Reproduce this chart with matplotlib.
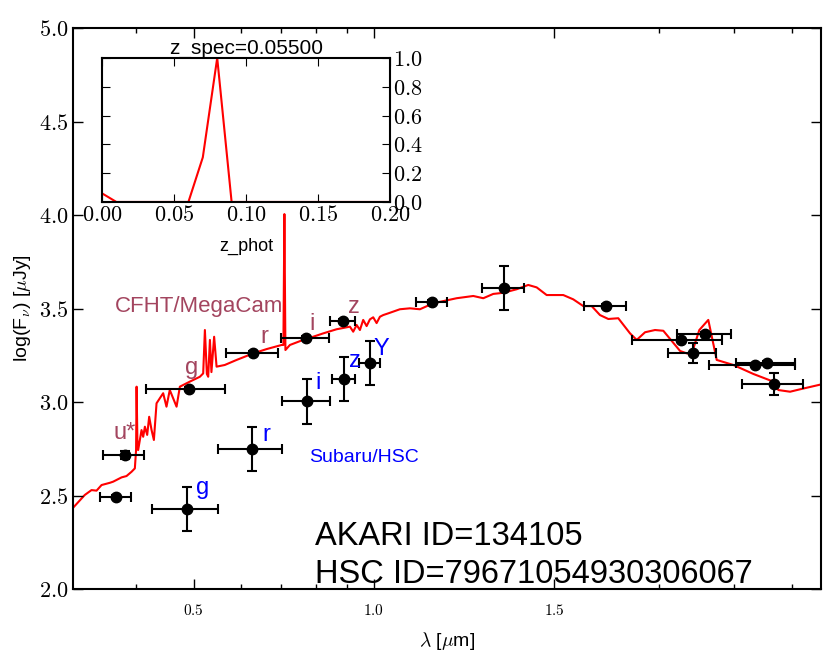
import matplotlib
matplotlib.use("Agg")
import matplotlib.pyplot as plt
import numpy as np

plt.rcParams['font.family'] = ['Liberation Sans', 'DejaVu Sans']
plt.rcParams['mathtext.fontset'] = 'cm'

# SED model (observed wavelength in micron, log flux in uJy)
sed_wave = [0.3142, 0.3286, 0.3372, 0.3438, 0.3505, 0.3619, 0.3665, 0.3786, 0.3858, 0.3934,
            0.3984, 0.4003, 0.4011, 0.4023, 0.4035, 0.4088, 0.4114, 0.4141, 0.4178, 0.4210,
            0.4249, 0.4287, 0.4331, 0.4386, 0.4443, 0.4500, 0.4546, 0.4558, 0.4678, 0.4738,
            0.4923, 0.5117, 0.5183, 0.5217, 0.5257, 0.5284, 0.5319, 0.5350, 0.5406, 0.5457,
            0.5632, 0.5894, 0.6284, 0.6616, 0.7010, 0.7058, 0.7085, 0.7113, 0.7237, 0.7615,
            0.7914, 0.8227, 0.8661, 0.9118, 0.9234, 0.9356, 0.9475, 0.9596, 0.9723, 0.9847,
            0.9973, 1.0104, 1.0234, 1.0365, 1.0566, 1.1052, 1.1487, 1.1937, 1.2568, 1.3749,
            1.4659, 1.5234, 1.5831, 1.6453, 1.7324, 1.8113, 1.8710, 1.9444, 2.0728, 2.1542,
            2.2387, 2.3121, 2.3874, 2.4650, 2.5616, 2.6803, 2.7502, 2.8396, 2.9508, 3.0465,
            3.2494, 3.3343, 3.3993, 3.4994, 3.6224, 3.7419, 3.9900, 4.3088, 4.6531, 4.7438,
            4.9627, 5.1576, 5.5908]
sed_flux = [2.435, 2.503, 2.529, 2.526, 2.556, 2.568, 2.574, 2.597, 2.604, 2.627,
            2.645, 2.743, 3.082, 2.797, 2.743, 2.850, 2.814, 2.868, 2.824, 2.921,
            2.850, 2.797, 2.993, 3.020, 3.047, 2.975, 3.047, 3.064, 2.975, 3.082,
            3.109, 3.135, 3.153, 3.385, 3.150, 3.135, 3.332, 3.160, 3.349, 3.189,
            3.198, 3.225, 3.260, 3.283, 3.305, 3.305, 4.005, 3.278, 3.305, 3.332,
            3.349, 3.367, 3.389, 3.403, 3.376, 3.412, 3.385, 3.439, 3.406, 3.442,
            3.453, 3.422, 3.456, 3.465, 3.474, 3.496, 3.501, 3.496, 3.528, 3.555,
            3.567, 3.555, 3.578, 3.584, 3.603, 3.626, 3.613, 3.572, 3.572, 3.549,
            3.513, 3.513, 3.465, 3.444, 3.448, 3.367, 3.332, 3.373, 3.385, 3.381,
            3.273, 3.260, 3.260, 3.385, 3.439, 3.225, 3.198, 3.150, 3.109, 3.064,
            3.055, 3.068, 3.094]

# photometry (black points)
phot_wave = [0.370, 0.383, 0.490, 0.628, 0.770, 0.888, 1.250, 1.650, 2.443,
             3.262, 3.577, 3.416, 4.340, 4.540, 4.666]
phot_wave_err = [0.022, 0.030, 0.074, 0.062, 0.072, 0.043, 0.075, 0.135, 0.200,
                 0.560, 0.370, 0.310, 0.710, 0.510, 0.545]
phot_flux = [2.492, 2.717, 3.070, 3.262, 3.342, 3.433, 3.535, 3.610, 3.513,
             3.332, 3.364, 3.262, 3.198, 3.209, 3.096]
phot_flux_err = [0.01, 0.02, 0.01, 0.01, 0.01, 0.01, 0.01, 0.12, 0.01,
                 0.01, 0.01, 0.055, 0.01, 0.01, 0.06]

# Subaru/HSC photometry
hsc_wave = [0.487, 0.625, 0.773, 0.891, 0.985]
hsc_wave_err = [0.061, 0.077, 0.072, 0.040, 0.040]
hsc_flux = [2.428, 2.749, 3.005, 3.123, 3.209]
hsc_flux_err = [0.118, 0.120, 0.120, 0.118, 0.117]

# filter labels
cfht_names = ['u*', 'g', 'r', 'i', 'z']
cfht_lx = [0.383, 0.496, 0.657, 0.788, 0.926]
cfht_ly = [2.834, 3.182, 3.348, 3.417, 3.508]
hsc_names = ['g', 'r', 'i', 'z', 'Y']
hsc_lx = [0.518, 0.662, 0.806, 0.929, 1.031]
hsc_ly = [2.540, 2.824, 3.102, 3.219, 3.283]

# photo-z PDF
zphot = [0.00, 0.01, 0.02, 0.03, 0.04, 0.05, 0.06, 0.07, 0.08, 0.09, 0.10,
         0.11, 0.12, 0.13, 0.14, 0.15, 0.16, 0.17, 0.18, 0.19, 0.20]
pdf = [0.06, 0.0, 0.0, 0.0, 0.0, 0.0, 0.0, 0.31, 1.0, 0.0, 0.0,
       0.0, 0.0, 0.0, 0.0, 0.0, 0.0, 0.0, 0.0, 0.0, 0.0]

cfht_col = '#a3455f'

fig = plt.figure(figsize=(8.3, 6.53), dpi=100)
ax = fig.add_axes([0.08795, 0.0980, 0.9012, 0.8591])

ax.plot(sed_wave, sed_flux, color='red', lw=1.5, zorder=1)
ax.errorbar(phot_wave, phot_flux, xerr=phot_wave_err, yerr=phot_flux_err, fmt='o',
            color='black', ms=7.5, elinewidth=1.5, capsize=3.5, capthick=1.5, zorder=3)
ax.errorbar(hsc_wave, hsc_flux, xerr=hsc_wave_err, yerr=hsc_flux_err, fmt='o',
            color='black', ms=7.5, elinewidth=1.5, capsize=3.5, capthick=1.5, zorder=3)

for n, x, y in zip(cfht_names, cfht_lx, cfht_ly):
    ax.text(x, y, n, color=cfht_col, fontsize=17, ha='center', va='center')
for n, x, y in zip(hsc_names, hsc_lx, hsc_ly):
    ax.text(x, y, n, color='blue', fontsize=17, ha='center', va='center')

ax.text(0.0561, 0.4938, 'CFHT/MegaCam', color=cfht_col, fontsize=16, transform=ax.transAxes)
ax.text(0.3155, 0.2264, 'Subaru/HSC', color='blue', fontsize=14, transform=ax.transAxes)
ax.text(0.3235, 0.0784, 'AKARI ID=134105', fontsize=23.5, transform=ax.transAxes)
ax.text(0.3235, 0.0107, 'HSC ID=79671054930306067', fontsize=23.5, transform=ax.transAxes)

ax.set_xscale('log')
ax.set_xlim(0.314, 5.59)
ax.set_ylim(2.0, 5.0)
ax.set_xticks([0.5, 1.0, 2.0])
ax.set_xticklabels(['$0.5$', '$1.0$', '$1.5$'], fontsize=11)
ax.set_xticks([0.4, 0.6, 0.7, 0.8, 0.9, 3, 4, 5], minor=True)
ax.set_xticklabels([], minor=True)
yt = np.arange(2.0, 5.01, 0.5)
ax.set_yticks(yt)
ax.set_yticklabels(['$%.1f$' % v for v in yt], fontsize=16)
ax.tick_params(which='both', direction='in', top=True, right=True, width=1)
ax.tick_params(which='major', length=7)
ax.tick_params(which='minor', length=3.5)
ax.tick_params(axis='x', pad=10)
for s in ax.spines.values():
    s.set_linewidth(1.5)
ax.set_xlabel(r'$\lambda$ [$\mu$m]', fontsize=14, labelpad=9)
ax.set_ylabel(r'log(F$_\nu$) [$\mu$Jy]', fontsize=14, labelpad=4)

# inset with the photo-z distribution
ins = fig.add_axes([0.1229, 0.6907, 0.3470, 0.2205])
ins.plot(zphot, pdf, color='red', lw=1.5)
ins.set_xlim(0, 0.2)
ins.set_ylim(0, 1.0)
xt = [0.0, 0.05, 0.10, 0.15, 0.20]
ins.set_xticks(xt)
ins.set_xticklabels(['$%.2f$' % v for v in xt], fontsize=16)
yt2 = [0.0, 0.2, 0.4, 0.6, 0.8, 1.0]
ins.set_yticks(yt2)
ins.set_yticklabels(['$%.1f$' % v for v in yt2], fontsize=16)
ins.yaxis.tick_right()
ins.tick_params(direction='in', top=True, left=True, right=True, length=6, pad=2)
for s in ins.spines.values():
    s.set_linewidth(1.5)
ins.set_title('z_spec=0.05500', fontsize=15, pad=3)
ins.set_xlabel('z_phot', fontsize=13, labelpad=9)

fig.savefig('out.png', dpi=100)
